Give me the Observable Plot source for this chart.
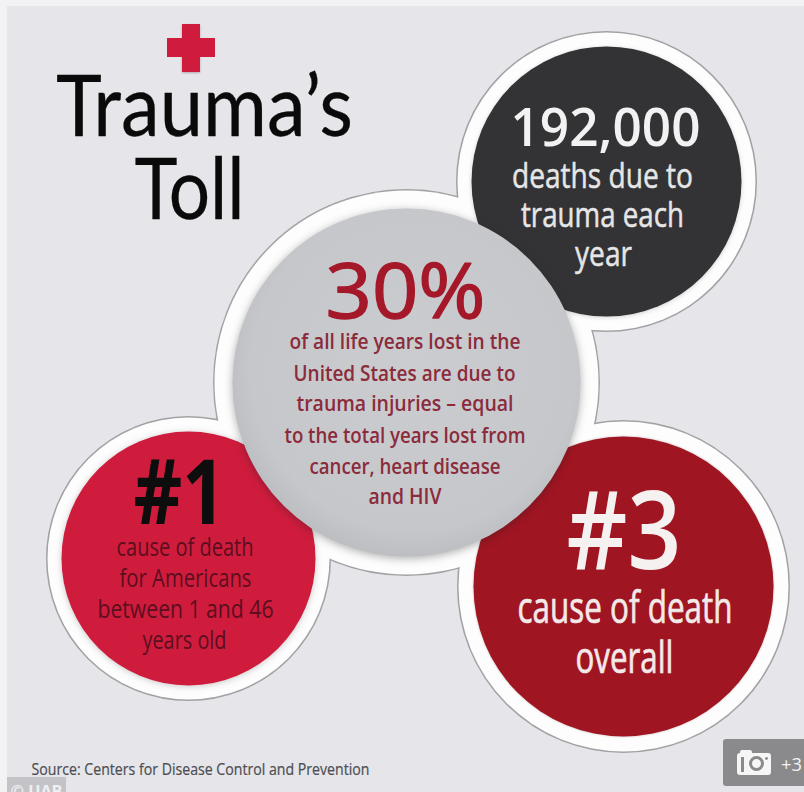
<!DOCTYPE html>
<html>
<head>
<meta charset="utf-8">
<style>
  html, body { margin: 0; padding: 0; background: #f2f2f4; overflow: hidden; }
  svg { display: block; }
</style>
<script src="https://cdn.jsdelivr.net/npm/d3@7"></script>
<script src="https://cdn.jsdelivr.net/npm/@observablehq/plot@0.6"></script>
</head>
<body>
<script>
// Headline statistics and wording
const titleLines = ["Trauma’s", "Toll"];
const deathsFigure = ["192,000"];
const deathsLines = ["deaths due to", "trauma each", "year"];
const yearsFigure = ["30%"];
const yearsLines = [
  "of all life years lost in the",
  "United States are due to",
  "trauma injuries – equal",
  "to the total years lost from",
  "cancer, heart disease",
  "and HIV"
];
const rankOneFigure = ["#1"];
const rankOneLines = ["cause of death", "for Americans", "between 1 and 46", "years old"];
const rankThreeFigure = ["#3"];
const rankThreeLines = ["cause of death", "overall"];
const sourceNote = ["Source: Centers for Disease Control and Prevention"];
const creditNote = ["© UAB"];
const galleryCount = ["+3"];

// Bubble layout: centre, inner disc and outer white ring, in page pixels
const bubbles = [
  {name: "rankOne",   cx: 188, cy: 558, disc: 127, ring: 141, color: "#cf1c3d"},
  {name: "deaths",    cx: 606, cy: 181, disc: 135, ring: 149, color: "#333335"},
  {name: "rankThree", cx: 623, cy: 586, disc: 150, ring: 165, color: "#a01522"},
  {name: "years",     cx: 406, cy: 382, disc: 174, ring: 192, color: "url(#yearsShade)"}
];
const pick = (name) => bubbles.filter((b) => b.name === name);

// Text rows: [label, x centre, baseline, fitted width]
const rows = (labels, xs, ys, widths) =>
  labels.map((label, i) => ({label, x: xs[i], y: ys[i], w: widths[i]}));

function lines(labels, xs, ys, widths, style) {
  const data = rows(labels, xs, ys, widths);
  return Plot.text(data, {
    x: "x", y: "y", text: "label",
    textAnchor: "middle", lineAnchor: "bottom",
    ...style,
    render(index, scales, values, dimensions, context, next) {
      const g = next(index, scales, values, dimensions, context);
      d3.select(g).selectAll("text")
        .attr("textLength", (_, k) => data[index[k]].w)
        .attr("lengthAdjust", "spacingAndGlyphs");
      return g;
    }
  });
}

// Gradient used by the central grey disc
const shadeDefs = () => {
  const svg = d3.create("svg:defs");
  const grad = svg.append("radialGradient").attr("id", "yearsShade")
    .attr("gradientUnits", "objectBoundingBox").attr("cx", "0.52").attr("cy", "0.46").attr("r", "0.55");
  grad.append("stop").attr("offset", "0").attr("stop-color", "#cbccd0");
  grad.append("stop").attr("offset", "0.85").attr("stop-color", "#c6c7cb");
  grad.append("stop").attr("offset", "1").attr("stop-color", "#bcbdc0");
  return svg.node();
};

const sans = "'Open Sans', 'Noto Sans', sans-serif";
const circle = (data, rKey, opts) =>
  Plot.dot(data, {x: "cx", y: "cy", r: rKey, ...opts});

const chart = Plot.plot({
  width: 804,
  height: 792,
  margin: 0,
  style: {background: "#f2f2f4"},
  x: {domain: [0, 804], range: [0, 804], axis: null},
  y: {domain: [0, 792], range: [0, 792], axis: null},
  r: {type: "identity"},
  marks: [
    shadeDefs,
    // Panel
    Plot.rect([{}], {x1: () => 7, x2: () => 804, y1: () => 6, y2: () => 792, fill: "#e6e6ea"}),

    // Red cross emblem
    Plot.rect([{}], {x1: () => 182, x2: () => 200, y1: () => 24, y2: () => 72, fill: "#cf1c3d",
      imageFilter: "drop-shadow(0 1px 1px rgba(90,40,40,.35))"}),
    Plot.rect([{}], {x1: () => 167, x2: () => 215, y1: () => 38, y2: () => 57, fill: "#cf1c3d"}),

    // Outlined rings, then a white layer that hides outlines where rings overlap
    circle(bubbles, "ring", {fill: "#fdfdfd", stroke: "#a2a2a5", strokeWidth: 3}),
    circle(bubbles, "ring", {fill: "#fdfdfd"}),

    // Discs, the grey one lying on top of the others
    circle(pick("rankOne"), "disc", {fill: "color", imageFilter: "drop-shadow(0 1px 3px rgba(40,40,40,.25))"}),
    circle(pick("deaths"), "disc", {fill: "color", imageFilter: "drop-shadow(0 1px 2px rgba(40,40,40,.2))"}),
    circle(pick("rankThree"), "disc", {fill: "color", imageFilter: "drop-shadow(0 0 1px rgba(60,20,20,.3))"}),
    circle(pick("years"), "disc", {fill: "color", imageFilter: "drop-shadow(0 2px 4px rgba(30,30,30,.35))"}),

    // Title
    lines(titleLines, [204, 189], [135, 218], [297, 110],
      {fontFamily: "Lato, sans-serif", fontSize: 86, fill: "#0a0a0a", stroke: "#0a0a0a", strokeWidth: 0.3}),

    // Deaths per year
    lines(deathsFigure, [605], [145], [190],
      {fontFamily: sans, fontSize: 53, fontWeight: 600, fill: "#f2f2f2"}),
    lines(deathsLines, [602, 602, 603], [187, 226, 265], [181, 163, 57],
      {fontFamily: sans, fontSize: 34, fill: "#e6e6e6", stroke: "#e6e6e6", strokeWidth: 0.5}),

    // Share of life years lost
    lines(yearsFigure, [405], [317], [160],
      {fontFamily: sans, fontSize: 76, fill: "#a5182a", stroke: "#a5182a", strokeWidth: 1.4}),
    lines(yearsLines, [404.5, 404, 404.5, 404.5, 404.5, 404.5], [348, 380, 410, 442, 473, 503],
      [231, 222, 217, 241, 191, 73],
      {fontFamily: sans, fontSize: 22, fontWeight: 600, fill: "#8b2b3b"}),

    // Rank among under-46s
    lines(rankOneFigure, [179], [523], [92],
      {fontFamily: sans, fontSize: 90, fontWeight: 700, fill: "#0d0d0d"}),
    lines(rankOneLines, [184.5, 185, 185, 184], [555, 586, 617, 648], [137, 132, 176, 84],
      {fontFamily: sans, fontSize: 26, fill: "#5c0e1e"}),

    // Overall rank
    lines(rankThreeFigure, [623.5], [568], [115],
      {fontFamily: sans, fontSize: 108, fontWeight: 600, fill: "#f5f1f1"}),
    lines(rankThreeLines, [624.5, 624], [622, 672], [215, 98],
      {fontFamily: sans, fontSize: 44, fill: "#f3e9e9", stroke: "#f3e9e9", strokeWidth: 0.7}),

    // Source line and photo credit
    lines(sourceNote, [200], [774], [338],
      {fontFamily: sans, fontSize: 15.5, fill: "#4c4d51", stroke: "#4c4d51", strokeWidth: 0.2}),
    Plot.rect([{}], {x1: () => 7, x2: () => 66, y1: () => 777, y2: () => 792, fill: "#c4c4c8"}),
    lines(creditNote, [36], [796], [52],
      {fontFamily: sans, fontSize: 16, fontWeight: 700, fill: "#f0f0f2"}),

    // Gallery badge with camera glyph
    Plot.rect([{}], {x1: () => 723, x2: () => 806, y1: () => 739, y2: () => 786, fill: "#8a8a8c", rx: 3}),
    Plot.rect([{}], {x1: () => 737, x2: () => 771, y1: () => 753, y2: () => 775, fill: "#f6f6f6", rx: 3}),
    Plot.rect([{}], {x1: () => 740, x2: () => 752, y1: () => 750, y2: () => 756, fill: "#f6f6f6", rx: 2}),
    Plot.rect([{}], {x1: () => 741, x2: () => 744, y1: () => 757, y2: () => 772, fill: "#8a8a8c"}),
    Plot.dot([{}], {x: () => 756, y: () => 763, r: 6, fill: "#f6f6f6", stroke: "#8a8a8c", strokeWidth: 3}),
    Plot.dot([{}], {x: () => 766, y: () => 758, r: 1.4, fill: "#8a8a8c"}),
    lines(galleryCount, [791], [770], [21],
      {fontFamily: sans, fontSize: 18, fill: "#f2f2f2"})
  ]
});

document.body.appendChild(chart);
</script>
</body>
</html>
